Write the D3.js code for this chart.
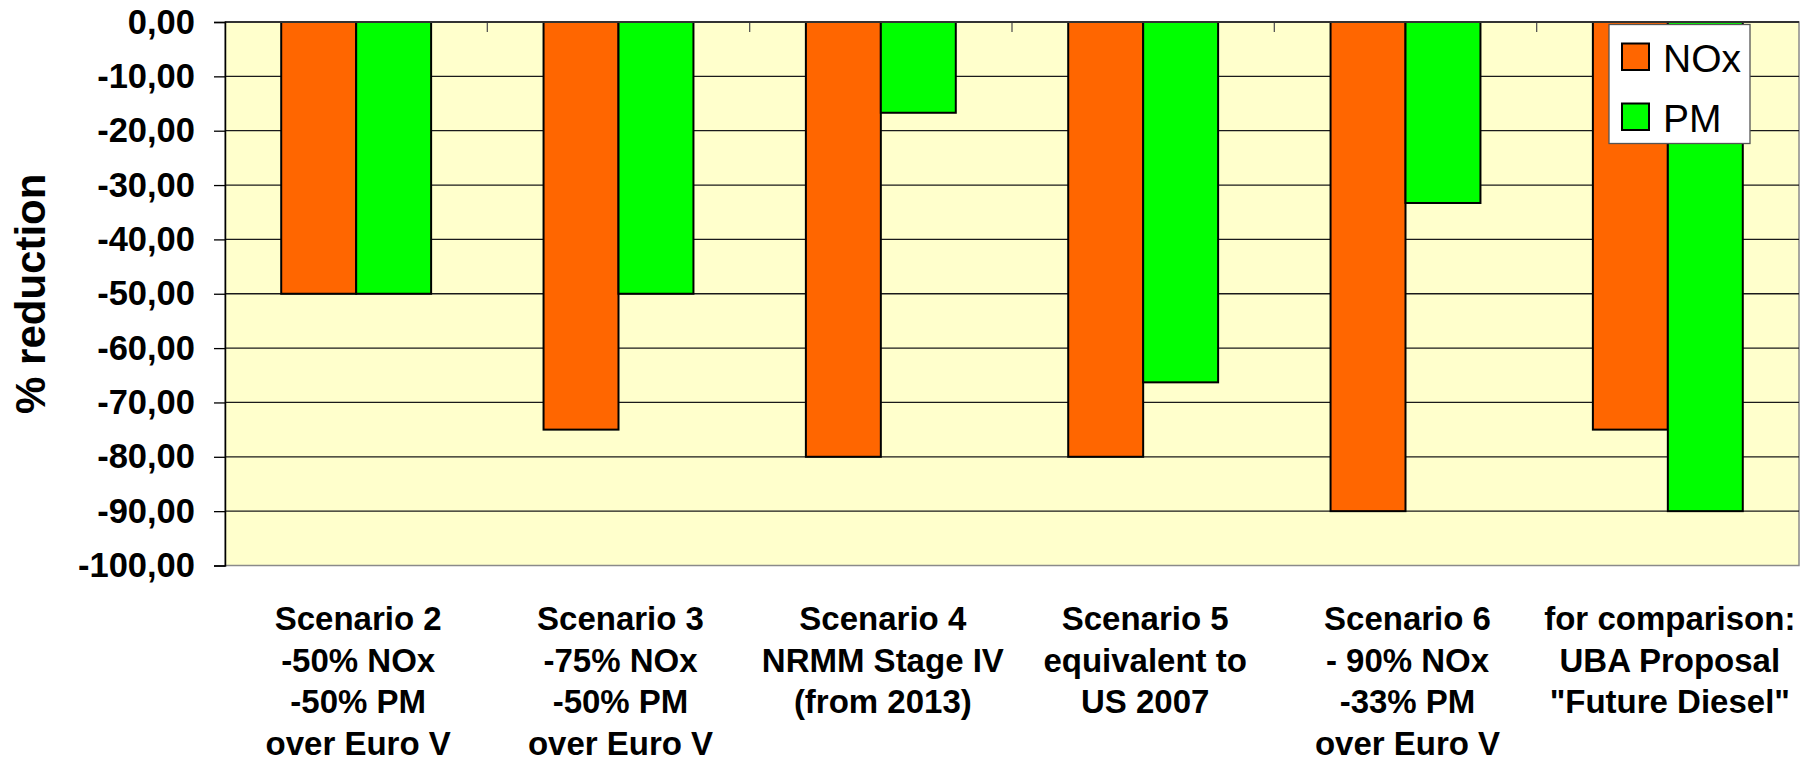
<!DOCTYPE html>
<html>
<head>
<meta charset="utf-8">
<script src="https://cdn.jsdelivr.net/npm/d3@7/dist/d3.min.js"></script>
<style>
  html, body { margin: 0; padding: 0; background: #ffffff; }
  svg { display: block; font-family: "Liberation Sans", Arial, sans-serif; }
</style>
</head>
<body>
<svg id="chart" width="1804" height="762"></svg>
<script>
// Category labels (one entry per line)
const categories = [
  ["Scenario 2", "-50% NOx", "-50% PM", "over Euro V"],
  ["Scenario 3", "-75% NOx", "-50% PM", "over Euro V"],
  ["Scenario 4", "NRMM Stage IV", "(from 2013)"],
  ["Scenario 5", "equivalent to", "US 2007"],
  ["Scenario 6", "- 90% NOx", "-33% PM", "over Euro V"],
  ["for comparison:", "UBA Proposal", "\"Future Diesel\""]
];
const seriesNames = ["NOx", "PM"];
const noxValues = [-50, -75, -80, -80, -90, -75];
const pmValues  = [-50, -50, -16.7, -66.3, -33.3, -90];
const yTicks = [0, -10, -20, -30, -40, -50, -60, -70, -80, -90, -100];
const colors = ["#FF6600", "#00FF00"];

const svg = d3.select("#chart");
const plot = { left: 225, right: 1799, top: 22, bottom: 565.5 };

const catKeys = categories.map((c, i) => i);
const x0 = d3.scaleBand().domain(catKeys).range([plot.left, plot.right]).padding(0);
const x1 = d3.scaleBand().domain(seriesNames).range([0, x0.bandwidth()])
  .paddingInner(0).paddingOuter(0.75);
const y = d3.scaleLinear().domain([-100, 0]).range([plot.bottom, plot.top]);
const color = d3.scaleOrdinal().domain(seriesNames).range(colors);

const locale = d3.formatLocale({ decimal: ",", thousands: ".", grouping: [3], currency: ["", "€"], minus: "-" });
const fmt = locale.format(".2f");

// plot background
svg.append("rect")
  .attr("x", plot.left).attr("y", plot.top)
  .attr("width", plot.right - plot.left).attr("height", plot.bottom - plot.top)
  .attr("fill", "#FFFFCC")
  .attr("stroke", "#8a8a8a").attr("stroke-width", 1.5);

// horizontal gridlines
svg.append("g").selectAll("line")
  .data(yTicks.filter(t => t !== 0 && t !== -100))
  .join("line")
  .attr("x1", plot.left).attr("x2", plot.right)
  .attr("y1", d => y(d)).attr("y2", d => y(d))
  .attr("stroke", "#1a1a1a").attr("stroke-width", 1.3);

// category tick marks hanging from the zero line
svg.append("g").selectAll("line")
  .data(catKeys.slice(1))
  .join("line")
  .attr("x1", d => x0(d)).attr("x2", d => x0(d))
  .attr("y1", y(0)).attr("y2", y(0) + 10)
  .attr("stroke", "#555").attr("stroke-width", 1.3);

// bars
const rows = catKeys.map(i => ({ i, values: [
  { key: "NOx", value: noxValues[i] },
  { key: "PM", value: pmValues[i] }
]}));

svg.append("g").selectAll("g")
  .data(rows)
  .join("g")
  .attr("transform", d => `translate(${x0(d.i)},0)`)
  .selectAll("rect")
  .data(d => d.values)
  .join("rect")
  .attr("x", d => x1(d.key))
  .attr("width", x1.bandwidth())
  .attr("y", d => y(Math.max(0, d.value)))
  .attr("height", d => Math.abs(y(d.value) - y(0)))
  .attr("fill", d => color(d.key))
  .attr("stroke", "#000").attr("stroke-width", 2);

// zero line (category axis)
svg.append("line")
  .attr("x1", plot.left).attr("x2", plot.right)
  .attr("y1", y(0)).attr("y2", y(0))
  .attr("stroke", "#333").attr("stroke-width", 2);

// value axis
const yAxis = d3.axisLeft(y).tickValues(yTicks).tickFormat(fmt).tickSize(11).tickPadding(19);
const gy = svg.append("g")
  .attr("transform", `translate(${plot.left},0)`)
  .call(yAxis);
gy.select(".domain").attr("stroke", "#000").attr("stroke-width", 1.5);
gy.selectAll(".tick line").attr("stroke", "#000").attr("stroke-width", 1.3);
gy.selectAll(".tick text")
  .attr("fill", "#000")
  .style("font-family", "'Liberation Sans', Arial, sans-serif")
  .style("font-size", "34.5px")
  .style("font-weight", "bold");

// value axis title
svg.append("text")
  .attr("transform", `translate(45,${(plot.top + plot.bottom) / 2}) rotate(-90)`)
  .attr("text-anchor", "middle")
  .style("font-size", "42px")
  .style("font-weight", "bold")
  .attr("fill", "#000")
  .text("% reduction");

// category labels
const lab = svg.append("g").selectAll("text")
  .data(rows)
  .join("text")
  .attr("x", d => x0(d.i) + x0.bandwidth() / 2 + 2)
  .attr("y", 630)
  .attr("text-anchor", "middle")
  .style("font-size", "33px")
  .style("font-weight", "bold")
  .attr("fill", "#000");
lab.selectAll("tspan")
  .data(d => categories[d.i])
  .join("tspan")
  .attr("x", function() { return d3.select(this.parentNode).attr("x"); })
  .attr("dy", (d, j) => j === 0 ? 0 : 41.7)
  .text(d => d);

// legend
const lg = svg.append("g");
lg.append("rect")
  .attr("x", 1609).attr("y", 24.5).attr("width", 141).attr("height", 119)
  .attr("fill", "#fff").attr("stroke", "#555").attr("stroke-width", 1.3);
const li = lg.selectAll("g.item")
  .data(seriesNames)
  .join("g")
  .attr("class", "item")
  .attr("transform", (d, i) => `translate(1622,${43.5 + i * 60})`);
li.append("rect")
  .attr("width", 27).attr("height", 26.5)
  .attr("fill", d => color(d))
  .attr("stroke", "#000").attr("stroke-width", 2);
li.append("text")
  .attr("x", 41).attr("y", 28)
  .style("font-size", "39px")
  .attr("fill", "#000")
  .text(d => d);
</script>
</body>
</html>
